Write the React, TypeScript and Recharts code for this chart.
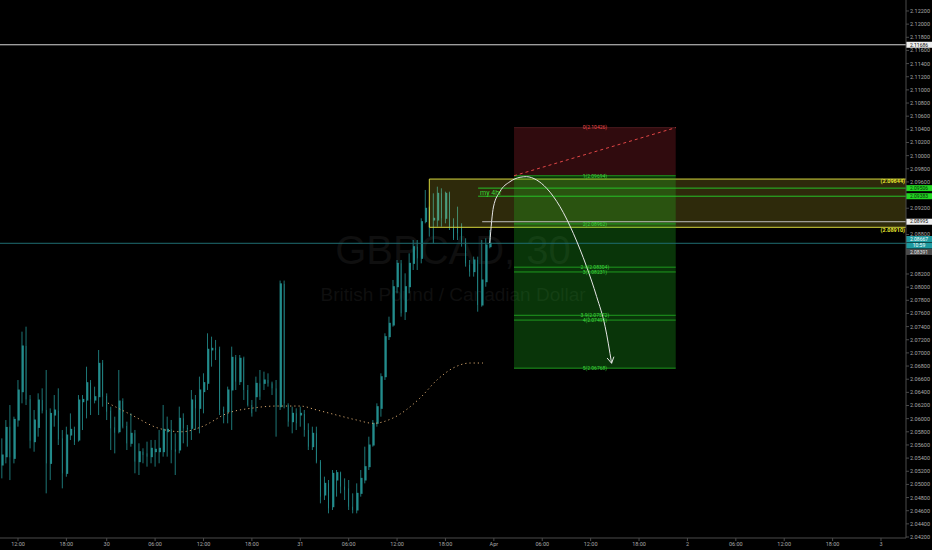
import React from 'react';
import { ComposedChart, Bar, Line, XAxis, YAxis, ReferenceArea, ReferenceLine } from 'recharts';

// 30-minute GBPCAD candles, index 0 = first bar on the left
const opens = [
  2.05295, 2.05421, 2.05878, 2.05396, 2.05979, 2.06410, 2.07105, 2.06298, 2.05650, 2.05867,
  2.06283, 2.06131, 2.05320, 2.06055, 2.06121, 2.05700, 2.05168, 2.05751, 2.05827, 2.05675,
  2.06258, 2.06283, 2.06547, 2.06283, 2.06334, 2.06851, 2.06344, 2.06121, 2.05867, 2.05802,
  2.06268, 2.05888, 2.05625, 2.05777, 2.05346, 2.05498, 2.05473, 2.05422, 2.05498, 2.05498,
  2.05498, 2.05802, 2.05838, 2.05534, 2.05524, 2.06005, 2.05863, 2.05853, 2.06284, 2.06157,
  2.06411, 2.06538, 2.07045, 2.07070, 2.07055, 2.06142, 2.06107, 2.06436, 2.06933, 2.06563,
  2.06918, 2.06436, 2.06208, 2.06334, 2.06537, 2.06537, 2.06588, 2.06537, 2.06461, 2.06182,
  2.08050, 2.06208, 2.05954, 2.06081, 2.06056, 2.06071, 2.05827, 2.05574, 2.05777, 2.05346,
  2.04839, 2.05016, 2.04661, 2.05067, 2.05179, 2.04966, 2.04940, 2.04661, 2.04611, 2.04864,
  2.05067, 2.05270, 2.05599, 2.05929, 2.06157, 2.06638, 2.07247, 2.07424, 2.08007, 2.08362,
  2.07627, 2.08007, 2.08362, 2.08616, 2.08438, 2.08996, 2.09199, 2.09021, 2.09021, 2.09427,
  2.09047, 2.09427, 2.08945, 2.08920, 2.08920, 2.08692, 2.08337, 2.08236, 2.08413, 2.07729,
  2.08083, 2.08616,
];
const highs = [
  2.05700, 2.05979, 2.06207, 2.06030, 2.06587, 2.07323, 2.07399, 2.06359, 2.06131, 2.06385,
  2.06461, 2.06740, 2.06156, 2.06359, 2.06461, 2.05827, 2.05878, 2.06080, 2.05878, 2.06359,
  2.06359, 2.06790, 2.06587, 2.06486, 2.07044, 2.06892, 2.06385, 2.06182, 2.06030, 2.06740,
  2.06309, 2.05954, 2.06081, 2.05828, 2.05625, 2.05549, 2.05650, 2.05676, 2.05676, 2.05828,
  2.06208, 2.06031, 2.05980, 2.05777, 2.06183, 2.06081, 2.05904, 2.06436, 2.06360, 2.06639,
  2.06690, 2.07298, 2.07247, 2.07197, 2.07095, 2.06183, 2.06487, 2.07095, 2.06968, 2.06968,
  2.06943, 2.06512, 2.06284, 2.06639, 2.06740, 2.06715, 2.06689, 2.06563, 2.06588, 2.08100,
  2.08100, 2.06233, 2.06182, 2.06157, 2.06182, 2.06132, 2.05929, 2.05878, 2.05878, 2.05371,
  2.05118, 2.05067, 2.05219, 2.05219, 2.05194, 2.05092, 2.05067, 2.04864, 2.05016, 2.05219,
  2.05574, 2.05726, 2.05979, 2.06233, 2.06689, 2.07298, 2.07551, 2.08109, 2.08413, 2.08413,
  2.08210, 2.08514, 2.08717, 2.08717, 2.09047, 2.09478, 2.09224, 2.09427, 2.09528, 2.09503,
  2.09452, 2.09452, 2.09047, 2.09224, 2.08971, 2.08743, 2.08413, 2.08464, 2.08464, 2.08717,
  2.08743, 2.08869,
];
const lows = [
  2.05092, 2.05320, 2.05066, 2.05320, 2.05878, 2.06233, 2.06207, 2.05548, 2.05497, 2.05726,
  2.06080, 2.04864, 2.05066, 2.05878, 2.05599, 2.04940, 2.05117, 2.05675, 2.05599, 2.05650,
  2.05827, 2.06004, 2.06055, 2.06233, 2.06055, 2.06182, 2.05979, 2.05523, 2.05472, 2.05776,
  2.05852, 2.05523, 2.05574, 2.05169, 2.05143, 2.05321, 2.05270, 2.05321, 2.05270, 2.05321,
  2.05422, 2.05422, 2.05321, 2.05143, 2.05473, 2.05625, 2.05574, 2.05676, 2.05828, 2.05777,
  2.06081, 2.06436, 2.06791, 2.06892, 2.06056, 2.05929, 2.05929, 2.05828, 2.06436, 2.06512,
  2.06284, 2.06183, 2.06031, 2.06106, 2.06284, 2.06436, 2.06487, 2.06360, 2.05726, 2.06132,
  2.06157, 2.05878, 2.05777, 2.05827, 2.05878, 2.05726, 2.05523, 2.05523, 2.05320, 2.04712,
  2.04763, 2.04560, 2.04611, 2.04814, 2.04864, 2.04763, 2.04611, 2.04560, 2.04560, 2.04814,
  2.05016, 2.05219, 2.05574, 2.05878, 2.06030, 2.06588, 2.07196, 2.07399, 2.07906, 2.07551,
  2.07500, 2.07906, 2.08261, 2.08261, 2.08362, 2.08971, 2.08768, 2.08667, 2.08920, 2.08920,
  2.08971, 2.08869, 2.08717, 2.08717, 2.08616, 2.08312, 2.08160, 2.08160, 2.07627, 2.07703,
  2.08007, 2.08591,
];
const closes = [
  2.05447, 2.05867, 2.05411, 2.05989, 2.06435, 2.07105, 2.06293, 2.05665, 2.05979, 2.06283,
  2.06121, 2.05320, 2.06080, 2.06131, 2.05685, 2.05168, 2.05751, 2.05837, 2.05650, 2.06283,
  2.06293, 2.06547, 2.06293, 2.06334, 2.06841, 2.06334, 2.06106, 2.05852, 2.05786, 2.06268,
  2.05878, 2.05624, 2.05777, 2.05346, 2.05498, 2.05447, 2.05422, 2.05549, 2.05534, 2.05549,
  2.05838, 2.05838, 2.05524, 2.05498, 2.06005, 2.05853, 2.05838, 2.06284, 2.06157, 2.06436,
  2.06548, 2.07055, 2.07070, 2.07045, 2.06132, 2.06107, 2.06436, 2.06933, 2.06563, 2.06918,
  2.06436, 2.06208, 2.06081, 2.06537, 2.06334, 2.06588, 2.06537, 2.06461, 2.06182, 2.08050,
  2.06233, 2.05954, 2.06081, 2.05929, 2.06081, 2.05827, 2.05574, 2.05777, 2.05346, 2.04814,
  2.05016, 2.04636, 2.05168, 2.05179, 2.04966, 2.04915, 2.04661, 2.04611, 2.04864, 2.05092,
  2.05270, 2.05599, 2.05929, 2.06182, 2.06638, 2.07247, 2.07450, 2.08007, 2.08362, 2.07602,
  2.08007, 2.08362, 2.08616, 2.08438, 2.08996, 2.09199, 2.09021, 2.09047, 2.09427, 2.09047,
  2.09427, 2.08920, 2.08743, 2.08819, 2.08692, 2.08362, 2.08236, 2.08413, 2.07729, 2.08109,
  2.08641, 2.08667,
];

// moving average (dotted) sampled along the bars
const maIdx = [26.3, 32.2, 38.7, 44.6, 49.6, 56.1, 62.3, 68.2, 73.9, 78.1, 83.0, 88.0, 92.1, 97.0, 103.7, 107.9, 111.9, 116.1, 119.3];
const maVals = [2.06238, 2.06055, 2.05858, 2.05801, 2.05878, 2.06086, 2.06162, 2.06192, 2.06192, 2.06132, 2.06055, 2.05979, 2.05929, 2.06010, 2.06314, 2.06588, 2.06770, 2.06846, 2.06846];

// hand-drawn projection arrow
const arrowIdx = [121.0, 121.9, 123.5, 126.0, 128.5, 130.1, 132.6, 135.1, 138.4, 141.7, 145.0, 147.5, 149.6, 151.2];
const arrowVals = [2.08672, 2.09219, 2.09452, 2.09604, 2.09671, 2.09680, 2.09630, 2.09503, 2.09224, 2.08819, 2.08311, 2.07855, 2.07398, 2.06842];

const timeTicks = [4, 16, 26, 38, 50, 62, 74, 86, 98, 110, 122, 134, 146, 158, 170, 182, 194, 206, 218];
const timeLabels = ['12:00', '18:00', '30', '06:00', '12:00', '18:00', '31', '06:00', '12:00', '18:00', 'Apr', '06:00', '12:00', '18:00', '2', '06:00', '12:00', '18:00', '3'];

// price scale labels (the ones hidden behind price tags are left out)
const priceTicks = [
  2.042, 2.044, 2.046, 2.048, 2.05, 2.052, 2.054, 2.056, 2.058, 2.06, 2.062, 2.064, 2.066, 2.068,
  2.07, 2.072, 2.074, 2.076, 2.078, 2.08, 2.082, 2.088, 2.092, 2.096,
  2.098, 2.1, 2.102, 2.104, 2.106, 2.108, 2.11, 2.112, 2.114, 2.116, 2.118, 2.12, 2.122,
];

// supply zone (yellow box)
const zoneStart = 106.0;
const zoneTop = 2.09644;
const zoneBottom = 2.08910;
// "my 4hr" lines
const fourHrStart = 118.1;
const fourHrLevels = [2.09506, 2.09383];
const whiteStart = 119.1;
const whiteLevel = 2.08995;
const topLine = 2.11686;
const lastPrice = 2.08667;

// short position tool
const posStart = 127.0;
const posEnd = 167.1;
const levelNames = ['0', '1', '2', '2.9', '3', '3.9', '4', '5'];
const levelPrices = [2.10426, 2.09694, 2.08962, 2.08304, 2.08231, 2.07572, 2.07499, 2.06768];

// price tags on the right axis (stacked tags are pushed apart like in the platform)
const tagTexts = ['2.11686', '2.09506', '2.09383', '2.08995', '2.08667', '10:59', '2.08391'];
const tagPrices = [2.11686, 2.09506, 2.09383, 2.08995, 2.08732, 2.08633, 2.08535];
const tagBgs = ['#eeeeee', '#22d622', '#22d622', '#eeeeee', '#1e9aa0', '#1e9aa0', '#4a4a4a'];
const tagFgs = ['#111111', '#0a2a0a', '#0a2a0a', '#111111', '#ffffff', '#ffffff', '#e6e6e6'];

const xDomain = [-0.46, 224.2];
const yDomain = [2.04185, 2.12367];

const candles = opens.map((o, i) => ({
  i,
  o,
  h: highs[i],
  l: lows[i],
  c: closes[i],
  range: [lows[i], highs[i]],
}));
const maData = maIdx.map((i, k) => ({ i, v: maVals[k] }));
const arrowData = arrowIdx.map((i, k) => ({ i, p: arrowVals[k] }));

const FONT = 'Roboto, "Noto Sans", sans-serif';

const Candle = (props: any) => {
  const { x, y, width, height, payload } = props;
  if (!payload || x == null) return null;
  const top = Math.min(y, y + height);
  const h = Math.abs(height);
  const span = payload.h - payload.l;
  const k = span > 0 ? h / span : 0;
  const up = payload.c >= payload.o;
  const bTop = top + (payload.h - Math.max(payload.o, payload.c)) * k;
  const bBot = top + (payload.h - Math.min(payload.o, payload.c)) * k;
  const cx = x + width / 2;
  const bh = Math.max(1, bBot - bTop);
  return (
    <g>
      <line x1={cx} x2={cx} y1={top} y2={top + h} stroke="#1d7676" strokeWidth={1} />
      {up ? (
        <rect x={x + 0.5} y={bTop} width={Math.max(1, width - 1)} height={bh} fill="#040c0c" stroke="#238c8c" strokeWidth={1} />
      ) : (
        <rect x={x} y={bTop} width={width} height={bh} fill="#2aa8aa" />
      )}
    </g>
  );
};

const AxisTag = (props: any) => {
  const { viewBox, text, bg, fg } = props;
  if (!viewBox) return null;
  const x = viewBox.x + viewBox.width;
  const y = viewBox.y;
  return (
    <g>
      <rect x={x} y={y - 3} width={26} height={6} fill={bg} />
      <text x={x + 13} y={y} dy="0.35em" textAnchor="middle" fontSize={5} fill={fg} fontFamily={FONT}>
        {text}
      </text>
    </g>
  );
};

const EdgeText = (props: any) => {
  const { viewBox, text, dy } = props;
  if (!viewBox) return null;
  const x = viewBox.x + viewBox.width - 1;
  return (
    <text x={x} y={viewBox.y + dy} dy="0.35em" textAnchor="end" fontSize={5.5} fontWeight="bold" fill="#e6e62e" fontFamily={FONT}>
      {text}
    </text>
  );
};

const ArrowDot = (props: any) => {
  const { cx, cy, index } = props;
  if (index !== arrowData.length - 1 || cx == null) return <g key={`ad-${index}`} />;
  return (
    <g key={`ad-${index}`}>
      <line x1={cx} y1={cy} x2={cx + 2.3} y2={cy - 6.6} stroke="#e6e6e6" strokeWidth={1} />
      <line x1={cx} y1={cy} x2={cx - 4.5} y2={cy - 5.3} stroke="#e6e6e6" strokeWidth={1} />
    </g>
  );
};

export default function App() {
  return (
    <div style={{ position: 'absolute', left: 0, top: 0, width: 932, height: 550, background: '#000', overflow: 'hidden' }}>
      <div
        style={{
          position: 'absolute', left: 0, top: 230, width: 906, textAlign: 'center',
          fontFamily: '"Liberation Sans", Arial, sans-serif', fontSize: 40, lineHeight: '40px', color: '#0f0f0f',
        }}
      >
        GBPCAD, 30
      </div>
      <div
        style={{
          position: 'absolute', left: 0, top: 285, width: 906, textAlign: 'center',
          fontFamily: '"Liberation Sans", Arial, sans-serif', fontSize: 19, lineHeight: '19px', color: '#0f0f0f',
        }}
      >
        British Pound / Canadian Dollar
      </div>
      <div style={{ position: 'absolute', left: 0, top: 0 }}>
        <ComposedChart width={932} height={550} data={candles} margin={{ top: 0, right: 0, bottom: 0, left: 0 }}>
          <XAxis
            dataKey="i"
            type="number"
            domain={xDomain}
            allowDataOverflow
            ticks={timeTicks}
            interval={0}
            tickFormatter={(v: number) => timeLabels[timeTicks.indexOf(v)] ?? ''}
            height={12}
            tickSize={3}
            tickMargin={1}
            stroke="#4a4a4a"
            tick={{ fill: '#a9a9a9', fontSize: 5.5, fontFamily: FONT }}
          />
          <YAxis
            orientation="right"
            type="number"
            domain={yDomain}
            allowDataOverflow
            ticks={priceTicks}
            interval={0}
            tickFormatter={(v: number) => v.toFixed(5)}
            width={26}
            tickSize={3}
            tickMargin={1}
            stroke="#4a4a4a"
            tick={{ fill: '#a9a9a9', fontSize: 5.5, fontFamily: FONT }}
          />

          <ReferenceLine y={topLine} stroke="#d6d6d6" strokeWidth={1} />
          <ReferenceLine y={lastPrice} stroke="#1f6d72" strokeWidth={1} />

          <Bar dataKey="range" barSize={3} isAnimationActive={false} shape={(p: any) => <Candle {...p} />} />

          <Line
            data={maData}
            dataKey="v"
            type="monotone"
            stroke="#d3a46c"
            strokeWidth={1}
            strokeDasharray="1.2 3"
            dot={false}
            activeDot={false}
            isAnimationActive={false}
          />

          <ReferenceArea
            x1={zoneStart}
            x2={xDomain[1] + 2}
            y1={zoneBottom}
            y2={zoneTop}
            fill="#ffeb3b"
            fillOpacity={0.18}
            stroke="#d6d63c"
            strokeWidth={1}
            ifOverflow="hidden"
            zIndex={350}
          />
          <ReferenceArea x1={posStart} x2={posEnd} y1={levelPrices[1]} y2={levelPrices[0]} fill="#f23645" fillOpacity={0.2} ifOverflow="hidden" zIndex={350} />
          <ReferenceArea x1={posStart} x2={posEnd} y1={levelPrices[7]} y2={levelPrices[1]} fill="#1fbf1f" fillOpacity={0.28} ifOverflow="hidden" zIndex={350} />

          {fourHrLevels.map((lv, k) => (
            <ReferenceLine
              key={`fh-${k}`}
              segment={[{ x: fourHrStart, y: lv }, { x: xDomain[1], y: lv }]}
              stroke="#27c227"
              strokeWidth={1}
              zIndex={360}
              label={k === 0 ? { value: 'my 4hr', position: 'insideTopLeft', offset: 2, fill: '#38d838', fontSize: 7, fontFamily: FONT } : undefined}
            />
          ))}
          <ReferenceLine segment={[{ x: whiteStart, y: whiteLevel }, { x: xDomain[1], y: whiteLevel }]} stroke="#bdbdbd" strokeWidth={1} zIndex={360} />

          {levelPrices.map((lv, k) => (
            <ReferenceLine
              key={`lv-${k}`}
              segment={[{ x: posStart, y: lv }, { x: posEnd, y: lv }]}
              stroke={k === 0 ? '#4a1a1e' : '#1f9a1f'}
              strokeWidth={1}
              zIndex={360}
              label={{
                value: `${levelNames[k]}(${lv.toFixed(5)})`,
                position: 'center',
                fill: k === 0 ? '#f04a4a' : '#3ed63e',
                fontSize: 5,
                fontFamily: FONT,
              }}
            />
          ))}
          <ReferenceLine
            segment={[{ x: posStart, y: levelPrices[1] }, { x: posEnd, y: levelPrices[0] }]}
            stroke="#e04646"
            strokeWidth={1}
            strokeDasharray="3 3"
            zIndex={360}
          />

          <Line
            data={arrowData}
            dataKey="p"
            type="monotone"
            stroke="#e6e6e6"
            strokeWidth={1}
            dot={(p: any) => <ArrowDot key={`ad-${p.index}`} {...p} />}
            activeDot={false}
            isAnimationActive={false}
          />

          <ReferenceLine y={zoneTop} stroke="none" label={<EdgeText text={`(${zoneTop.toFixed(5)})`} dy={2} />} />
          <ReferenceLine y={zoneBottom} stroke="none" label={<EdgeText text={`(${zoneBottom.toFixed(5)})`} dy={3} />} />

          {tagTexts.map((t, k) => (
            <ReferenceLine
              key={`tag-${k}`}
              y={tagPrices[k]}
              stroke="none"
              label={<AxisTag text={t} bg={tagBgs[k]} fg={tagFgs[k]} />}
            />
          ))}
        </ComposedChart>
      </div>
    </div>
  );
}
